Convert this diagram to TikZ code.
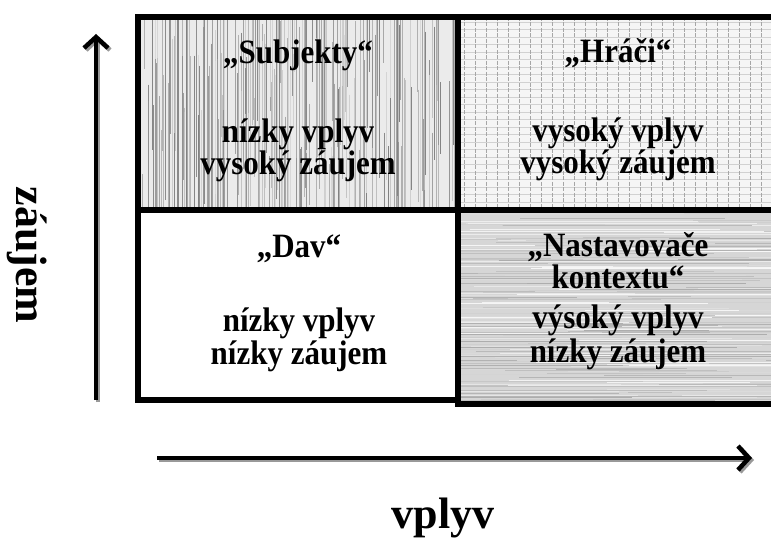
\documentclass[tikz,border=0pt]{standalone}
\usepackage{fontspec}
\setmainfont{Liberation Serif}
\usetikzlibrary{arrows.meta, positioning}

\tikzset{
  frame/.style={draw=black, line width=6pt},
  quadtext/.style={align=center, inner sep=0pt, yscale=1.1, transform shape, font=\bfseries\fontsize{31}{27.5}\selectfont},
  axisline/.style={line width=4.5pt, -{Straight Barb[length=11pt, width=24pt]}},
  axisshadow/.style={axisline, draw=black!40},
  axislabel/.style={font=\bfseries\fontsize{44}{44}\selectfont},
}

\begin{document}
\begin{tikzpicture}[x=1pt, y=-1pt]
  \useasboundingbox (0,0) rectangle (771,556);
  \pgfmathsetseed{7}

  % Subjekty: vertical streaks
  \begin{scope}
    \clip (138,17) rectangle (458,210);
    \fill[black!8] (138,17) rectangle (458,210);
    \foreach \i in {1,...,260} {
      \pgfmathsetmacro\xx{138+320*rnd}
      \pgfmathsetmacro\yy{17+193*rnd}
      \pgfmathsetmacro\ll{30+120*rnd}
      \pgfmathtruncatemacro\gg{15+35*rnd}
      \draw[black!\gg, line width=0.8pt] (\xx,\yy-\ll) -- (\xx,\yy+\ll);
    }
  \end{scope}

  % Hraci: grid
  \begin{scope}
    \clip (458,17) rectangle (780,210);
    \fill[black!4] (458,17) rectangle (780,210);
    \foreach \y in {22,29.5,...,210}
      \draw[black!18, line width=0.7pt] (458,\y) -- (780,\y);
    \foreach \x in {464,475,...,780}
      \draw[black!35, line width=0.8pt, dash pattern=on 4pt off 1.5pt] (\x,17) -- (\x,210);
  \end{scope}

  % Nastavovace: horizontal streaks
  \begin{scope}
    \clip (458,210) rectangle (780,404);
    \fill[black!16] (458,210) rectangle (780,404);
    \foreach \i in {1,...,260} {
      \pgfmathsetmacro\xx{458+320*rnd}
      \pgfmathsetmacro\yy{210+194*rnd}
      \pgfmathsetmacro\ll{40+160*rnd}
      \pgfmathtruncatemacro\gg{3+30*rnd}
      \draw[black!\gg, line width=1pt] (\xx-\ll,\yy) -- (\xx+\ll,\yy);
    }
  \end{scope}

  % frames
  \draw[frame] (138,17) rectangle (458,210);
  \draw[frame] (458,17) rectangle (780,210);
  \draw[frame] (138,210) rectangle (458,400);
  \draw[frame] (458,210) rectangle (780,404);

  % quadrant texts
  \node[quadtext] (subjekty) at (298,111) {„Subjekty“\\[42.5pt] nízky vplyv\\ vysoký záujem};
  \node[quadtext] (hraci) at (618,110) {„Hráči“\\[44pt] vysoký vplyv\\ vysoký záujem};
  \node[quadtext] (dav) at (299,303) {„Dav“\\[40.5pt] nízky vplyv\\ nízky záujem};
  \node[quadtext] (nastav) at (618,301) {„Nastavovače\\[1.5pt] kontextu“\\[9pt] výsoký vplyv\\[2pt] nízky záujem};

  % axes
  \coordinate (zbot) at (96,400);
  \coordinate (ztop) at (96,34);
  \coordinate (vleft) at (157,458);
  \coordinate (vright) at (752,458);
  \draw[axisshadow] ([shift={(2,2)}]zbot) -- ([shift={(2,2)}]ztop);
  \draw[axisline] (zbot) -- (ztop);
  \draw[axisshadow] ([shift={(2,2)}]vleft) -- ([shift={(2,2)}]vright);
  \draw[axisline] (vleft) -- (vright);

  \node[axislabel, rotate=-90] (zaujem) at (27,255) {záujem};
  \node[axislabel] (vplyv) at (443,518) {vplyv};
\end{tikzpicture}
\end{document}
